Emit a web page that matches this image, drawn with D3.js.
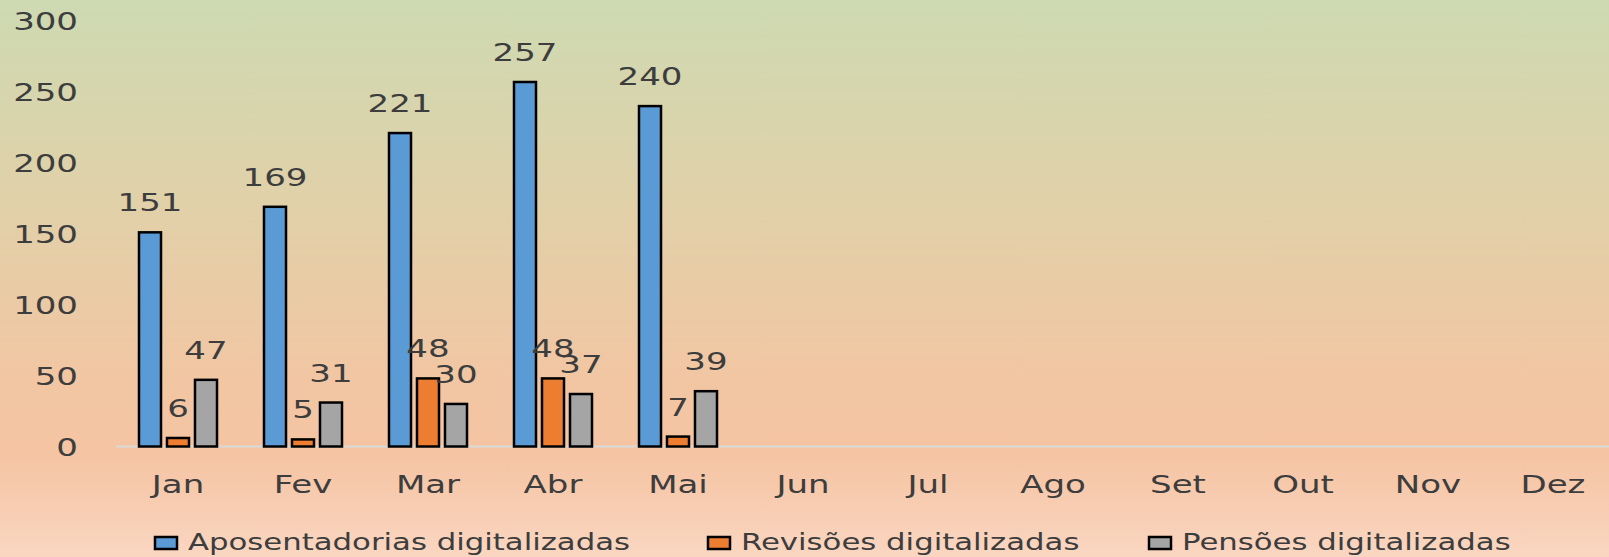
<!DOCTYPE html>
<html><head><meta charset="utf-8">
<script src="https://cdn.jsdelivr.net/npm/d3@7"></script>
<style>html,body{margin:0;padding:0;overflow:hidden;}svg{display:block;}</style>
</head><body>
<svg id="chart" width="1609" height="557"></svg>
<script>
const months = ["Jan","Fev","Mar","Abr","Mai","Jun","Jul","Ago","Set","Out","Nov","Dez"];
const seriesNames = ["Aposentadorias digitalizadas","Revisões digitalizadas","Pensões digitalizadas"];
const aposentadorias = [151,169,221,257,240,null,null,null,null,null,null,null];
const revisoes = [6,5,48,48,7,null,null,null,null,null,null,null];
const pensoes = [47,31,30,37,39,null,null,null,null,null,null,null];
const yTicks = [0,50,100,150,200,250,300];
const colors = ["#5b9bd5","#ed7d31","#a5a5a5"];

const W = 1609, H = 557, SX = 1.36, TXT = "#3d3d3d", FONT = "DejaVu Sans, Verdana, sans-serif";
const svg = d3.select("#chart");

const defs = svg.append("defs");
const grad = defs.append("linearGradient").attr("id","bg").attr("x1",0).attr("y1",0).attr("x2",0).attr("y2",1);
[[0,"#cedab2"],[0.35,"#e0d1a9"],[0.68,"#f2c6a3"],[0.82,"#f5c4a3"],[1,"#fad6c1"]].forEach(s=>grad.append("stop").attr("offset",s[0]).attr("stop-color",s[1]));
svg.append("rect").attr("width",W).attr("height",H).attr("fill","url(#bg)");

const x = d3.scaleBand().domain(months).range([115.5,1615.5]).paddingInner(0).paddingOuter(0);
const y = d3.scaleLinear().domain([0,300]).range([446.5,21]);
const inner = d3.scaleBand().domain([0,1,2]).range([-39,39]).paddingInner(0.214);

function stext(g, x0, y0, txt, size, anchor, sx){
  return g.append("text")
    .attr("transform",`translate(${x0},${y0}) scale(${sx||SX},1)`)
    .attr("text-anchor",anchor).attr("font-family",FONT).attr("font-size",size)
    .attr("fill",TXT).text(txt);
}

// y tick labels
const yg = svg.append("g");
yTicks.forEach(t => stext(yg, 78, y(t)+9, String(t), 25, "end", 1.36));

// baseline
svg.append("line").attr("x1",116).attr("x2",W).attr("y1",y(0)).attr("y2",y(0))
  .attr("stroke","#d9d9d9").attr("stroke-width",2);

// bars
const allSeries = [aposentadorias, revisoes, pensoes];
const bg = svg.append("g");
allSeries.forEach((vals, si) => {
  months.forEach((m, i) => {
    const v = vals[i];
    if (v == null) return;
    const cx = x(m) + x.bandwidth()/2;
    const bx = cx + inner(si);
    bg.append("rect").attr("x",bx).attr("y",y(v)).attr("width",inner.bandwidth())
      .attr("height",y(0)-y(v)).attr("fill",colors[si]).attr("stroke","#000").attr("stroke-width",2.5);
  });
});
// data labels
const lg = svg.append("g");
allSeries.forEach((vals, si) => {
  months.forEach((m, i) => {
    const v = vals[i];
    if (v == null) return;
    const cx = x(m) + x.bandwidth()/2 + inner(si) + inner.bandwidth()/2;
    stext(lg, cx, y(v)-21, String(v), 25, "middle");
  });
});

// category labels
const cg = svg.append("g");
months.forEach(m => stext(cg, x(m)+x.bandwidth()/2, 493, m, 25, "middle"));

// legend
const legX = [154, 707, 1148];
const leg = svg.append("g");
seriesNames.forEach((n, i) => {
  leg.append("rect").attr("x",legX[i]+1).attr("y",537).attr("width",22).attr("height",12)
    .attr("fill",colors[i]).attr("stroke","#000").attr("stroke-width",2.5);
  stext(leg, legX[i]+34, 550, n, 22.6, "start");
});
</script>
</body></html>
